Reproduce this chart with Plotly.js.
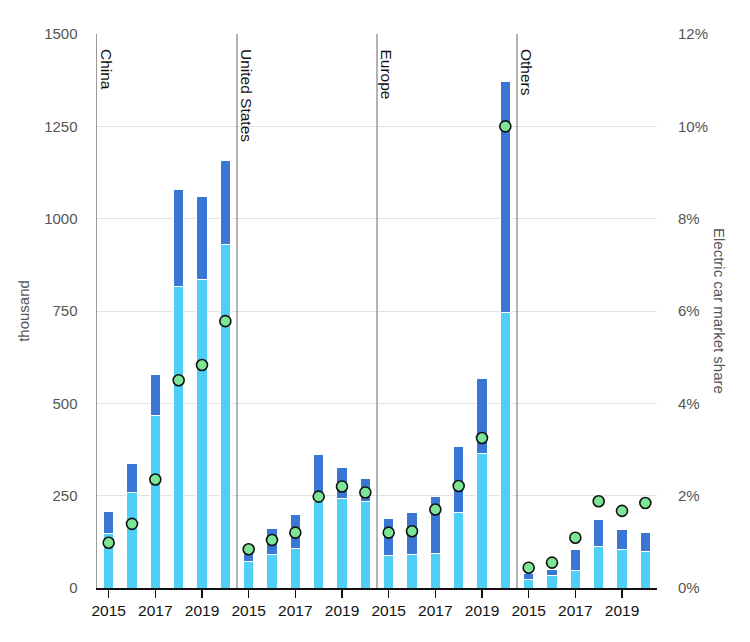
<!DOCTYPE html>
<html>
<head>
<meta charset="utf-8">
<script src="https://cdn.plot.ly/plotly-3.0.1.min.js"></script>
<style>
html,body{margin:0;padding:0;background:#fff;}
#chart{width:750px;height:642px;}
</style>
</head>
<body>
<div id="chart"></div>
<script>
const years = [2015, 2016, 2017, 2018, 2019, 2020];
const yearTicks = [2015, 2017, 2019];
const regions = ['China', 'United States', 'Europe', 'Others'];

const bevChina = [148, 258, 468, 815, 835, 931];
const phevChina = [59, 79, 111, 264, 225, 226];
const shareChina = [0.98, 1.39, 2.35, 4.5, 4.83, 5.78];

const bevUS = [71, 92, 106, 235, 243, 233];
const phevUS = [35, 68, 92, 126, 84, 63];
const shareUS = [0.84, 1.04, 1.2, 1.98, 2.2, 2.07];

const bevEurope = [88, 90, 93, 204, 363, 747];
const phevEurope = [99, 115, 156, 178, 203, 624];
const shareEurope = [1.2, 1.23, 1.7, 2.21, 3.25, 10.0];

const bevOthers = [22, 33, 47, 112, 105, 99];
const phevOthers = [16, 16, 56, 73, 53, 51];
const shareOthers = [0.44, 0.55, 1.09, 1.88, 1.67, 1.84];

const yTicks = [0, 250, 500, 750, 1000, 1250, 1500];
const shareTicks = [0, 2, 4, 6, 8, 10, 12];

const bevSeries = [bevChina, bevUS, bevEurope, bevOthers];
const phevSeries = [phevChina, phevUS, phevEurope, phevOthers];
const shareSeries = [shareChina, shareUS, shareEurope, shareOthers];

const FONT = '"Liberation Sans", Arial, sans-serif';
const BEV_COLOR = '#4dcff6';
const PHEV_COLOR = '#3a77d5';
const GRAY = '#555555';

const traces = [];
regions.forEach((r, i) => {
  const xa = i === 0 ? 'x' : 'x' + (i + 1);
  traces.push({
    type: 'bar', x: years, y: bevSeries[i], xaxis: xa, yaxis: 'y',
    name: 'BEV', showlegend: false, width: 0.45,
    marker: {color: BEV_COLOR, line: {color: '#ffffff', width: 1}},
    hoverinfo: 'skip'
  });
  traces.push({
    type: 'bar', x: years, y: phevSeries[i], xaxis: xa, yaxis: 'y',
    name: 'PHEV', showlegend: false, width: 0.45,
    marker: {color: PHEV_COLOR, line: {color: '#ffffff', width: 1}},
    hoverinfo: 'skip'
  });
});
regions.forEach((r, i) => {
  const xa = i === 0 ? 'x' : 'x' + (i + 1);
  traces.push({
    type: 'scatter', mode: 'markers', x: years, y: shareSeries[i],
    xaxis: xa, yaxis: 'y2', showlegend: false, cliponaxis: false,
    marker: {size: 11, color: '#7de596', line: {color: '#111111', width: 1.6}},
    hoverinfo: 'skip'
  });
});

const layout = {
  width: 750, height: 642,
  margin: {l: 97, r: 93, t: 34, b: 54, pad: 0},
  paper_bgcolor: '#ffffff', plot_bgcolor: '#ffffff',
  font: {family: FONT, size: 14, color: GRAY},
  barmode: 'stack',
  showlegend: false,
  yaxis: {
    range: [0, 1500], tickvals: yTicks, ticktext: yTicks.map(String),
    showgrid: true, gridcolor: '#e2e2e2', gridwidth: 1,
    zeroline: false, showline: true, linecolor: '#9a9a9a', linewidth: 1.5,
    ticks: 'outside', ticklen: 15, tickcolor: 'rgba(0,0,0,0)',
    tickfont: {family: FONT, size: 15, color: GRAY},
    title: {text: 'thousand', standoff: 11, font: {family: FONT, size: 15, color: GRAY}}
  },
  yaxis2: {
    range: [0, 12], tickvals: shareTicks, ticktext: shareTicks.map(v => v + '%'),
    overlaying: 'y', side: 'right', anchor: 'free', position: 1,
    showgrid: false, zeroline: false, showline: false,
    ticks: 'outside', ticklen: 17, tickcolor: 'rgba(0,0,0,0)',
    tickfont: {family: FONT, size: 15, color: GRAY}
  },
  shapes: [],
  annotations: []
};

regions.forEach((r, i) => {
  const key = i === 0 ? 'xaxis' : 'xaxis' + (i + 1);
  layout[key] = {
    domain: [i / 4, (i + 1) / 4],
    anchor: 'y',
    range: [2014.5, 2020.5],
    tickvals: yearTicks, ticktext: yearTicks.map(String),
    ticks: 'outside', ticklen: 8, tickwidth: 1.5, tickcolor: '#111111',
    showgrid: false, zeroline: false,
    showline: true, linecolor: '#111111', linewidth: 1.5,
    tickfont: {family: FONT, size: 15.5, color: '#111111'}
  };
  if (i > 0) {
    layout.shapes.push({
      type: 'line', xref: 'paper', yref: 'paper',
      x0: i / 4, x1: i / 4, y0: 0, y1: 1,
      line: {color: '#9a9a9a', width: 1.5}
    });
  }
  const xr = i === 0 ? 'x domain' : 'x' + (i + 1) + ' domain';
  layout.annotations.push({
    text: r, xref: xr, yref: 'paper', x: 0.068, y: 1, yshift: -13,
    xanchor: 'center', yanchor: 'top', textangle: 90, showarrow: false,
    font: {family: FONT, size: 15.5, color: '#111111'}
  });
});

layout.annotations.push({
  text: 'Electric car market share', xref: 'paper', yref: 'paper',
  x: 1.1125, y: 0.5, xanchor: 'center', yanchor: 'middle',
  textangle: 90, showarrow: false,
  font: {family: FONT, size: 15, color: GRAY}
});

Plotly.newPlot('chart', traces, layout, {staticPlot: true, displayModeBar: false});
</script>
</body>
</html>
